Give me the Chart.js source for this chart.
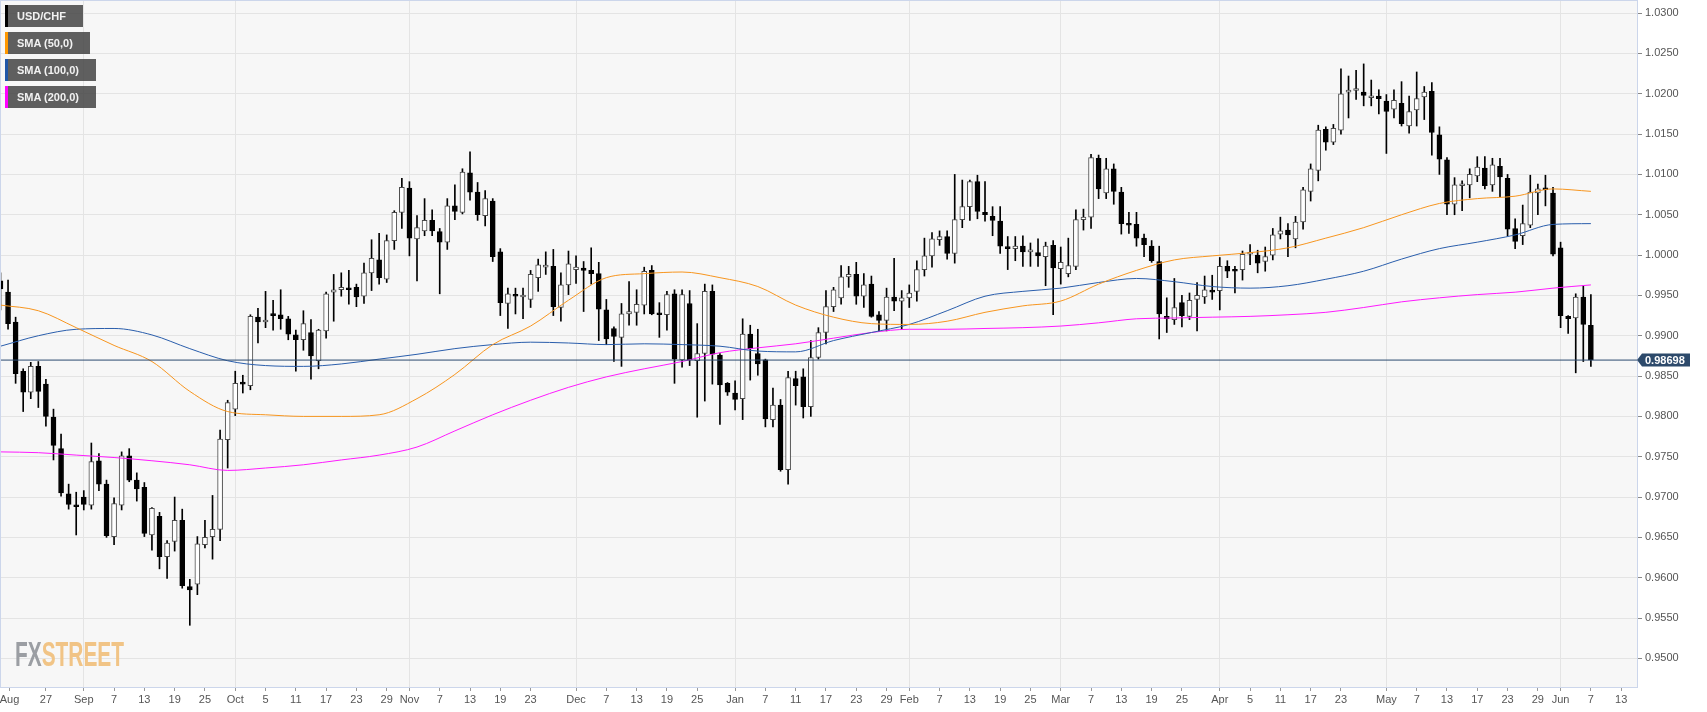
<!DOCTYPE html>
<html>
<head>
<meta charset="utf-8">
<script src="https://cdn.jsdelivr.net/npm/chart.js"></script>
<style>
    html, body { margin: 0; padding: 0; background: #fff; }
    #wrap { position: relative; width: 1707px; height: 712px; }
    #myChart { display: block; }
    .leg { position: absolute; left: 5px; height: 22px; padding-left: 12px; box-sizing: border-box;
           background: rgba(68, 68, 68, 0.85); color: #f2f2f2;
           font: bold 11px "Liberation Sans", Arial, sans-serif; line-height: 22px; }
    .leg i { position: absolute; left: 0; top: 0; width: 3px; height: 100%; }
</style>
</head>
<body>
<div id="wrap">
    <canvas id="myChart" width="1707" height="712"></canvas>
    <div class="leg" style="top:5px;width:78px"><i style="background:#000"></i>USD/CHF</div>
    <div class="leg" style="top:32px;width:85px"><i style="background:#ff9800"></i>SMA (50,0)</div>
    <div class="leg" style="top:59px;width:91px"><i style="background:#1f56a8"></i>SMA (100,0)</div>
    <div class="leg" style="top:86px;width:91px"><i style="background:#ff00ff"></i>SMA (200,0)</div>
</div>
<script>
// daily USD/CHF candles, one per trading day; day 0 = Aug 27
const firstDay = -6;
const open = [
    .9968, .9954, .9917, .9856, .9830, .9862, .9840, .9799, .9760, .9704,
    .9690, .9700, .9690, .9745, .9716, .9651, .9690, .9751, .9721, .9712,
    .9653, .9676, .9626, .9645, .9671, .9589, .9592, .9641, .9651, .9660,
    .9771, .9809, .9841, .9838, .9923, .9917, .9927, .9926, .9921, .9901,
    .9895, .9904, .9869, .9906, .9954, .9957, .9959, .9960, .9949, .9978,
    .9994, .9970, 1.0018, 1.0053, 1.0083, 1.0020, 1.0030, 1.0043, 1.0029, 1.0016,
    1.0061, 1.0053, 1.0102, 1.0078, 1.0049, 1.0067, 1.0004, .9940, .9951, .9948,
    .9945, .9972, .9985, .9986, .9935, .9963, .9982, .9984, .9981, .9977,
    .9932, .9909, .9898, .9927, .9929, .9938, .9981, .9927, .9926, .9952,
    .9870, .9940, .9869, .9878, .9955, .9876, .9841, .9829, .9822, .9902,
    .9878, .9870, .9796, .9814, .9734, .9847, .9849, .9812, .9873, .9904,
    .9936, .9947, .9973, .9976, .9949, .9964, .9926, .9919, .9948, .9943,
    .9947, .9955, .9982, .9999, 1.0019, 1.0023, 1.0002, 1.0044, 1.0060, 1.0091,
    1.0053, 1.0048, 1.0042, 1.0010, 1.0008, 1.0011, 1.0004, 1.0003, .9998, 1.0012,
    .9983, .9977, .9986, 1.0044, 1.0047, 1.0120, 1.0077, 1.0107, 1.0078, 1.0038,
    1.0038, 1.0021, 1.0011, .9992, .9924, .9920, .9941, .9924, .9945, .9948,
    .9956, .9956, .9986, .9981, .9982, 1.0001, 1.0000, .9992, 1.0000, 1.0026,
    1.0031, 1.0020, 1.0041, 1.0079, 1.0105, 1.0156, 1.0140, 1.0155, 1.0202, 1.0204,
    1.0202, 1.0195, 1.0197, 1.0191, 1.0181, 1.0188, 1.0160, 1.0180, 1.0196, 1.0203,
    1.0149, 1.0118, 1.0063, 1.0086, 1.0087, 1.0098, 1.0108, 1.0087, 1.0110, 1.0095,
    1.0033, 1.0024, 1.0037, 1.0077, 1.0082, 1.0077, 1.0009, .9924, .9922, .9948,
    .9913
];
const high = [
    .9978, .9969, .9923, .9859, .9867, .9868, .9846, .9809, .9778, .9716,
    .9706, .9708, .9767, .9754, .9721, .9699, .9756, .9760, .9730, .9718,
    .9687, .9681, .9646, .9700, .9685, .9598, .9651, .9671, .9702, .9783,
    .9820, .9856, .9851, .9926, .9934, .9955, .9944, .9957, .9924, .9907,
    .9931, .9920, .9908, .9954, .9976, .9978, .9981, .9964, .9990, 1.0019,
    1.0027, 1.0025, 1.0055, 1.0095, 1.0091, 1.0049, 1.0070, 1.0056, 1.0033, 1.0070,
    1.0087, 1.0107, 1.0128, 1.0090, 1.0080, 1.0070, 1.0008, .9959, .9959, .9959,
    .9981, .9995, 1.0004, 1.0007, .9978, 1.0005, .9999, .9992, 1.0009, .9991,
    .9945, .9911, .9940, .9967, .9957, .9985, .9987, .9941, .9955, .9957,
    .9957, .9956, .9915, .9964, .9963, .9878, .9842, .9844, .9921, .9913,
    .9908, .9871, .9835, .9821, .9856, .9856, .9859, .9894, .9910, .9956,
    .9960, .9987, .9986, .9991, .9977, .9974, .9930, .9959, .9996, .9956,
    .9963, .9993, 1.0021, 1.0028, 1.0030, 1.0030, 1.0100, 1.0093, 1.0093, 1.0099,
    1.0091, 1.0060, 1.0060, 1.0023, 1.0023, 1.0024, 1.0015, 1.0020, 1.0016, 1.0018,
    1.0010, 1.0021, 1.0056, 1.0057, 1.0125, 1.0124, 1.0120, 1.0113, 1.0084, 1.0053,
    1.0053, 1.0026, 1.0018, 1.0011, .9947, .9971, .9950, .9953, .9966, .9974,
    .9975, .9997, .9993, .9986, 1.0005, 1.0013, 1.0006, 1.0010, 1.0033, 1.0047,
    1.0039, 1.0048, 1.0084, 1.0113, 1.0161, 1.0159, 1.0162, 1.0231, 1.0222, 1.0229,
    1.0237, 1.0217, 1.0205, 1.0199, 1.0205, 1.0215, 1.0197, 1.0227, 1.0209, 1.0214,
    1.0159, 1.0121, 1.0096, 1.0092, 1.0107, 1.0122, 1.0122, 1.0120, 1.0120, 1.0100,
    1.0045, 1.0062, 1.0099, 1.0088, 1.0099, 1.0084, 1.0016, .9925, .9952, .9962,
    .9951
];
const low = [
    .9932, .9908, .9841, .9806, .9822, .9811, .9788, .9746, .9701, .9685,
    .9653, .9684, .9685, .9708, .9650, .9641, .9684, .9719, .9695, .9651,
    .9634, .9611, .9599, .9633, .9587, .9541, .9579, .9637, .9623, .9646,
    .9736, .9801, .9829, .9833, .9891, .9910, .9907, .9908, .9895, .9856,
    .9882, .9846, .9859, .9897, .9918, .9949, .9939, .9936, .9940, .9956,
    .9964, .9966, 1.0007, 1.0033, .9999, .9968, 1.0024, 1.0024, .9952, 1.0007,
    1.0044, 1.0051, 1.0068, 1.0043, 1.0036, .9992, .9925, .9909, .9927, .9921,
    .9935, .9955, .9976, .9925, .9918, .9951, .9965, .9930, .9964, .9894,
    .9889, .9868, .9862, .9913, .9913, .9927, .9926, .9898, .9907, .9841,
    .9861, .9863, .9799, .9819, .9840, .9790, .9826, .9808, .9796, .9845,
    .9851, .9787, .9787, .9732, .9716, .9814, .9798, .9800, .9871, .9890,
    .9930, .9939, .9960, .9939, .9935, .9923, .9906, .9906, .9931, .9908,
    .9935, .9943, .9974, .9985, 1.0012, .9995, .9990, 1.0034, 1.0043, 1.0045,
    1.0042, 1.0024, 1.0002, .9982, .9993, .9986, .9986, .9986, .9962, .9926,
    .9964, .9973, .9982, 1.0031, 1.0033, 1.0070, 1.0070, 1.0063, 1.0026, 1.0027,
    1.0011, .9998, .9991, .9896, .9904, .9914, .9911, .9920, .9906, .9940,
    .9945, .9932, .9972, .9953, .9969, .9988, .9978, .9980, .9994, 1.0020,
    .9998, 1.0009, 1.0032, 1.0067, 1.0092, 1.0130, 1.0137, 1.0150, 1.0170, 1.0193,
    1.0185, 1.0185, 1.0175, 1.0126, 1.0170, 1.0160, 1.0151, 1.0160, 1.0168, 1.0124,
    1.0100, 1.0050, 1.0050, 1.0055, 1.0071, 1.0091, 1.0082, 1.0079, 1.0072, 1.0024,
    1.0008, 1.0013, 1.0034, 1.0050, 1.0061, .9999, .9910, .9903, .9854, .9868,
    .9862
];
const close = [
    .9958, .9915, .9853, .9830, .9862, .9831, .9800, .9764, .9705, .9691,
    .9688, .9691, .9744, .9716, .9652, .9692, .9751, .9721, .9710, .9655,
    .9686, .9626, .9643, .9671, .9590, .9585, .9642, .9650, .9660, .9772,
    .9817, .9841, .9840, .9924, .9917, .9919, .9925, .9921, .9902, .9895,
    .9915, .9875, .9907, .9952, .9957, .9960, .9957, .9948, .9978, .9996,
    .9972, 1.0018, 1.0053, 1.0084, 1.0021, 1.0034, 1.0043, 1.0030, 1.0016, 1.0061,
    1.0054, 1.0103, 1.0078, 1.0050, 1.0070, .9998, .9941, .9952, .9949, .9948,
    .9976, .9988, .9986, .9936, .9963, .9989, .9985, .9981, .9977, .9933,
    .9896, .9899, .9927, .9930, .9939, .9980, .9927, .9926, .9951, .9871,
    .9951, .9870, .9878, .9955, .9877, .9839, .9830, .9821, .9902, .9884,
    .9865, .9797, .9814, .9734, .9848, .9838, .9812, .9873, .9904, .9936,
    .9957, .9973, .9976, .9949, .9963, .9924, .9919, .9948, .9943, .9947,
    .9953, .9982, .9999, 1.0020, 1.0023, 1.0002, 1.0044, 1.0060, 1.0091, 1.0054,
    1.0050, 1.0043, 1.0011, 1.0008, 1.0011, 1.0004, 1.0004, .9999, 1.0011, .9984,
    .9991, .9987, 1.0044, 1.0047, 1.0121, 1.0082, 1.0107, 1.0079, 1.0039, 1.0037,
    1.0021, 1.0013, .9993, .9927, .9921, .9935, .9925, .9944, .9950, .9957,
    .9954, .9986, .9980, .9980, 1.0001, 1.0002, .9990, .9998, 1.0025, 1.0030,
    1.0025, 1.0041, 1.0081, 1.0107, 1.0155, 1.0140, 1.0157, 1.0200, 1.0204, 1.0205,
    1.0198, 1.0197, 1.0194, 1.0178, 1.0192, 1.0163, 1.0178, 1.0194, 1.0202, 1.0152,
    1.0119, 1.0063, 1.0087, 1.0087, 1.0100, 1.0109, 1.0086, 1.0112, 1.0097, 1.0032,
    1.0017, 1.0039, 1.0078, 1.0082, 1.0081, 1.0001, .9925, .9921, .9948, .9914,
    .9870
];

// moving averages at these trading days
const smaDay = [-6, -1, 4, 9, 14, 19, 24, 29, 34, 39, 44, 49, 54, 59, 64, 69, 74, 79, 84, 89, 94, 99,
    104, 109, 114, 119, 124, 129, 134, 139, 144, 149, 154, 159, 164, 169, 174, 179, 184, 189, 194, 199, 204];
const sma50 = [.9938, .9931, .9910, .9888, .9868, .9831, .9806, .9802, .9800, .9800, .9802, .9822, .9852, .9889,
    .9912, .9944, .9972, .9977, .9979, .9972, .9961, .9938, .9923, .9915, .9914, .9918, .9929, .9937, .9943,
    .9964, .9981, .9994, .9999, 1.0003, 1.0009, 1.0021, 1.0034, 1.0050, 1.0064, 1.0070, 1.0073, 1.0082, 1.0079];
const sma100 = [.9887, .9900, .9908, .9909, .9901, .9884, .9869, .9863, .9862, .9865, .9871, .9877, .9884, .9889,
    .9892, .9891, .9889, .9890, .9889, .9887, .9881, .9880, .9894, .9904, .9914, .9931, .9949, .9955, .9959,
    .9966, .9971, .9967, .9961, .9959, .9962, .9970, .9980, .9995, 1.0008, 1.0016, 1.0025, 1.0038, 1.0039];
const sma200 = [.9756, .9755, .9752, .9749, .9745, .9740, .9733, .9736, .9740, .9746, .9752, .9762, .9782, .9802,
    .9820, .9836, .9849, .9859, .9868, .9879, .9885, .9890, .9897, .9904, .9908, .9908, .9909, .9910, .9912,
    .9916, .9921, .9922, .9923, .9924, .9926, .9929, .9935, .9942, .9947, .9951, .9954, .9959, .9963];

const lastPrice = 0.98698;

// x axis labels and the trading day they sit on
const tickDays = [-4.8, 0, 5, 9, 13, 17, 21, 25, 29, 33, 37, 41, 45, 48, 52, 56, 60, 64, 70, 74, 78, 82, 86,
    91, 95, 99, 103, 107, 111, 114, 118, 122, 126, 130, 134, 138, 142, 146, 150, 155, 159, 163, 167, 171,
    177, 181, 185, 189, 193, 197, 200, 204, 208];
const tickLabels = ['Aug', '27', 'Sep', '7', '13', '19', '25', 'Oct', '5', '11', '17', '23', '29', 'Nov', '7',
    '13', '19', '23', 'Dec', '7', '13', '19', '25', 'Jan', '7', '11', '17', '23', '29', 'Feb', '7', '13', '19',
    '25', 'Mar', '7', '13', '19', '25', 'Apr', '5', '11', '17', '23', 'May', '7', '13', '17', '23', '29', 'Jun',
    '7', '13'];
const monthNames = ['Sep', 'Oct', 'Nov', 'Dec', 'Jan', 'Feb', 'Mar', 'Apr', 'May', 'Jun'];

const xMin = -5.93, xMax = 210.09;
const yMin = 0.94645, yMax = 1.03150;
const fontFamily = '"Liberation Sans", Arial, sans-serif';

const days = open.map((v, i) => firstDay + i);
const isDown = close.map((c, i) => c < open[i]);

const chartDeco = {
    id: 'chartDeco',
    beforeDraw(chart) {
        const {ctx, chartArea: a} = chart;
        ctx.save();
        ctx.fillStyle = '#f7f7f7';
        ctx.fillRect(a.left, a.top, a.right - a.left, a.bottom - a.top);
        ctx.restore();
    },
    beforeDatasetsDraw(chart) {
        // FXSTREET watermark
        const ctx = chart.ctx;
        ctx.save();
        ctx.font = 'bold 35px ' + fontFamily;
        const full = ctx.measureText('FXSTREET').width;
        const fx = ctx.measureText('FX').width;
        ctx.translate(15, 666);
        ctx.scale(109 / full, 1);
        ctx.textBaseline = 'alphabetic';
        ctx.fillStyle = '#9b9ea3';
        ctx.fillText('FX', 0, 0);
        ctx.fillStyle = '#f1c486';
        ctx.fillText('STREET', fx, 0);
        ctx.restore();
    },
    afterDraw(chart) {
        const {ctx, chartArea: a} = chart;
        ctx.save();
        ctx.strokeStyle = '#ccd6eb';
        ctx.lineWidth = 1;
        ctx.strokeRect(a.left - 0.5, a.top - 0.5, a.right - a.left + 1, a.bottom - a.top + 1);

        const y = chart.scales.y.getPixelForValue(lastPrice);
        const x0 = a.right;
        ctx.fillStyle = '#2d4a6b';
        ctx.beginPath();
        ctx.moveTo(x0, y);
        ctx.lineTo(x0 + 5, y - 6.5);
        ctx.lineTo(x0 + 53, y - 6.5);
        ctx.lineTo(x0 + 53, y + 6.5);
        ctx.lineTo(x0 + 5, y + 6.5);
        ctx.closePath();
        ctx.fill();
        ctx.fillStyle = '#ffffff';
        ctx.font = 'bold 11px ' + fontFamily;
        ctx.textAlign = 'left';
        ctx.textBaseline = 'middle';
        ctx.fillText(lastPrice.toFixed(5), x0 + 8, y + 0.5);
        ctx.restore();
    }
};

const ctx = document.getElementById('myChart');

new Chart(ctx, {
    type: 'bar',
    data: {
        datasets: [{
                type: 'line',
                data: [{x: xMin, y: lastPrice}, {x: xMax, y: lastPrice}],
                borderColor: '#2b4a6f',
                borderWidth: 1,
                pointRadius: 0,
                order: 0
            },
            {
                type: 'line',
                label: 'SMA (50,0)',
                data: smaDay.map((d, i) => ({x: d, y: sma50[i]})),
                borderColor: '#f7961f',
                borderWidth: 1,
                pointRadius: 0,
                cubicInterpolationMode: 'monotone',
                order: 1
            },
            {
                type: 'line',
                label: 'SMA (100,0)',
                data: smaDay.map((d, i) => ({x: d, y: sma100[i]})),
                borderColor: '#2a5eac',
                borderWidth: 1,
                pointRadius: 0,
                cubicInterpolationMode: 'monotone',
                order: 1
            },
            {
                type: 'line',
                label: 'SMA (200,0)',
                data: smaDay.map((d, i) => ({x: d, y: sma200[i]})),
                borderColor: '#ff1aff',
                borderWidth: 1,
                pointRadius: 0,
                cubicInterpolationMode: 'monotone',
                order: 1
            },
            {
                label: 'USD/CHF',
                data: days.map((d, i) => ({x: d, y: [open[i], close[i]]})),
                backgroundColor: isDown.map(b => b ? '#000000' : '#ffffff'),
                borderColor: isDown.map(b => b ? '#000000' : '#4a4a4a'),
                borderWidth: 1,
                borderSkipped: false,
                barThickness: 5,
                minBarLength: 2,
                grouped: false,
                order: 2
            },
            {
                label: 'wicks',
                data: days.map((d, i) => ({x: d, y: [low[i], high[i]]})),
                backgroundColor: '#000000',
                borderWidth: 0,
                barThickness: 1,
                grouped: false,
                order: 3
            }]
    },
    options: {
        responsive: false,
        animation: false,
        events: [],
        layout: {padding: {left: 1, top: 1, right: 0, bottom: 0}},
        plugins: {
            legend: {display: false},
            tooltip: {enabled: false}
        },
        scales: {
            x: {
                type: 'linear',
                min: xMin,
                max: xMax,
                offset: false,
                afterBuildTicks: s => { s.ticks = tickDays.map(v => ({value: v})); },
                afterFit: s => {
                    s.height = 25;
                    s.paddingLeft = 0;
                    s.paddingRight = 0;
                },
                ticks: {
                    autoSkip: false,
                    maxRotation: 0,
                    color: '#555',
                    padding: 2,
                    font: {size: 11, family: fontFamily},
                    callback: (v, i) => tickLabels[i]
                },
                grid: {
                    offset: false,
                    color: c => monthNames.includes(tickLabels[c.index]) ? '#e4e4e4' : 'rgba(0,0,0,0)',
                    tickColor: '#999',
                    tickLength: 4
                },
                border: {color: '#ccd6eb'}
            },
            y: {
                position: 'right',
                min: yMin,
                max: yMax,
                afterFit: s => {
                    s.width = 70;
                    s.paddingTop = 0;
                    s.paddingBottom = 0;
                },
                ticks: {
                    stepSize: 0.005,
                    includeBounds: false,
                    color: '#555',
                    padding: 3,
                    font: {size: 11, family: fontFamily},
                    callback: v => v.toFixed(4)
                },
                grid: {
                    color: '#e4e4e4',
                    tickColor: '#888',
                    tickLength: 5
                },
                border: {color: '#ccd6eb'}
            }
        }
    },
    plugins: [chartDeco]
});
</script>
</body>
</html>
